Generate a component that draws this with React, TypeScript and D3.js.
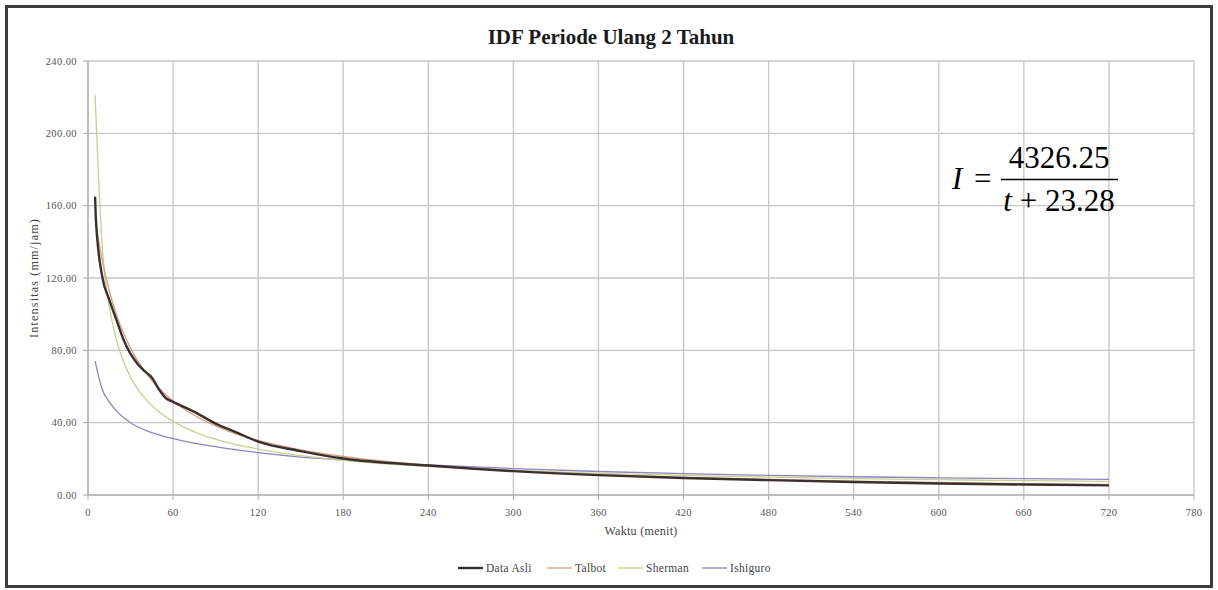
import React from 'react';
import * as d3 from 'd3';

// durations (menit) for the fitted curves
const durasi = [5, 10, 15, 20, 30, 40, 45, 50, 60, 80, 100, 120, 150, 180, 240, 300, 360, 420, 480, 540, 600, 660, 720];
const talbot = [153.0, 130.0, 113.0, 100.0, 81.2, 68.4, 63.4, 59.0, 52.0, 41.9, 35.1, 30.2, 25.0, 21.3, 16.4, 13.4, 11.3, 9.8, 8.6, 7.7, 6.9, 6.3, 5.8];
const sherman = [221.0, 137.8, 104.6, 86.0, 65.2, 53.6, 49.5, 46.1, 40.7, 33.4, 28.7, 25.4, 21.8, 19.2, 15.8, 13.6, 12.0, 10.8, 9.9, 9.1, 8.5, 7.9, 7.5];
const ishiguro = [74.0, 58.5, 51.5, 46.5, 40.0, 36.0, 34.5, 33.3, 31.2, 28.0, 25.5, 23.4, 21.0, 19.4, 16.7, 14.6, 13.0, 11.8, 10.9, 10.1, 9.5, 9.0, 8.6];

// observed data
const durasiAsli = [5, 5.6, 10, 15, 20, 25, 30, 35, 40, 45, 50, 55, 60, 75, 90, 105, 120, 150, 180, 240, 300, 360, 420, 480, 540, 600, 660, 720];
const dataAsli = [165, 152, 121, 108, 97, 86, 78, 72.5, 68.5, 65, 58.5, 53.5, 51.5, 46, 39.5, 34.5, 29.5, 24.3, 20.2, 16.3, 13.2, 11.0, 9.4, 8.2, 7.2, 6.4, 5.8, 5.3];

const xTicks = [0, 60, 120, 180, 240, 300, 360, 420, 480, 540, 600, 660, 720, 780];
const yTicks = [0, 40, 80, 120, 160, 200, 240];

const times = "'Liberation Serif', 'Times New Roman', serif";

const series = [
  { name: 'Data Asli', t: durasiAsli, v: dataAsli, color: '#3b3030', width: 2.4 },
  { name: 'Talbot', t: durasi, v: talbot, color: '#d6a07e', width: 1.3 },
  { name: 'Sherman', t: durasi, v: sherman, color: '#c9d08e', width: 1.3 },
  { name: 'Ishiguro', t: durasi, v: ishiguro, color: '#8686c0', width: 1.3 },
];

const App = () => {
  const x = d3.scaleLinear().domain([0, 780]).range([88, 1194]);
  const y = d3.scaleLinear().domain([0, 240]).range([495, 61]);

  const line = d3.line<[number, number]>()
    .x(d => x(d[0]))
    .y(d => y(d[1]))
    .curve(d3.curveMonotoneX);

  // draw order: thin fits below, observed on top
  const drawOrder = [series[3], series[2], series[1], series[0]];
  const legendX = [458, 547, 618, 702];

  return (
    <svg width={1218} height={590} style={{ position: 'absolute', left: 0, top: 0, background: '#fff' }}>
      <rect x={6.5} y={6.5} width={1205} height={580} fill="#fff" stroke="#3c3c3c" strokeWidth={3} />

      {/* grid */}
      {yTicks.map(v => (
        <line key={'gy' + v} x1={x(0)} x2={x(780)} y1={y(v)} y2={y(v)} stroke="#c6c6c6" strokeWidth={1.3} />
      ))}
      {xTicks.map(v => (
        <line key={'gx' + v} x1={x(v)} x2={x(v)} y1={y(0)} y2={y(240)} stroke="#c6c6c6" strokeWidth={1.3} />
      ))}
      {yTicks.map(v => (
        <line key={'ty' + v} x1={x(0) - 5} x2={x(0)} y1={y(v)} y2={y(v)} stroke="#a8a8a8" strokeWidth={1} />
      ))}
      {xTicks.map(v => (
        <line key={'tx' + v} x1={x(v)} x2={x(v)} y1={y(0)} y2={y(0) + 5} stroke="#a8a8a8" strokeWidth={1} />
      ))}
      <line x1={x(0)} x2={x(0)} y1={y(0)} y2={y(240)} stroke="#a8a8a8" strokeWidth={1.2} />
      <line x1={x(0)} x2={x(780)} y1={y(0)} y2={y(0)} stroke="#a8a8a8" strokeWidth={1.2} />

      {/* tick labels */}
      {yTicks.map(v => (
        <text key={'ly' + v} x={77} y={y(v) + 3.5} textAnchor="end" fontFamily={times} fontSize={10.5} letterSpacing={0.4} fill="#555">
          {v.toFixed(2)}
        </text>
      ))}
      {xTicks.map(v => (
        <text key={'lx' + v} x={x(v)} y={516} textAnchor="middle" fontFamily={times} fontSize={10.5} letterSpacing={0.3} fill="#555">
          {v}
        </text>
      ))}

      {/* series */}
      {drawOrder.map(s => (
        <path
          key={s.name}
          d={line(s.t.map((t, i) => [t, s.v[i]] as [number, number])) || ''}
          fill="none"
          stroke={s.color}
          strokeWidth={s.width}
          strokeLinejoin="round"
        />
      ))}

      {/* titles */}
      <text x={611} y={43.5} textAnchor="middle" fontFamily={times} fontSize={21} fontWeight="bold" fill="#1a1a1a">
        IDF Periode Ulang 2 Tahun
      </text>
      <text x={641} y={535} textAnchor="middle" fontFamily={times} fontSize={12} letterSpacing={0.3} fill="#444">
        Waktu  (menit)
      </text>
      <text transform={`translate(38,${y(120)}) rotate(-90)`} textAnchor="middle" fontFamily={times} fontSize={12} letterSpacing={1.2} fill="#444">
        Intensitas  (mm/jam)
      </text>

      {/* formula */}
      <g fontFamily={times} fill="#000">
        <text x={952} y={189} fontSize={31} fontStyle="italic">I</text>
        <text x={974} y={189} fontSize={31}>=</text>
        <text x={1059} y={168} fontSize={31} textAnchor="middle">4326.25</text>
        <line x1={1001} x2={1118} y1={179.5} y2={179.5} stroke="#000" strokeWidth={1.3} />
        <text x={1059} y={211} fontSize={31} textAnchor="middle">
          <tspan fontStyle="italic">t</tspan>
          <tspan> + 23.28</tspan>
        </text>
      </g>

      {/* legend */}
      {series.map((s, i) => (
        <g key={'lg' + s.name}>
          <line x1={legendX[i]} x2={legendX[i] + 25} y1={568} y2={568} stroke={s.color} strokeWidth={s.width} />
          <text x={legendX[i] + 28} y={572} fontFamily={times} fontSize={11.5} letterSpacing={0.3} fill="#444">{s.name}</text>
        </g>
      ))}
    </svg>
  );
};

export default App;
